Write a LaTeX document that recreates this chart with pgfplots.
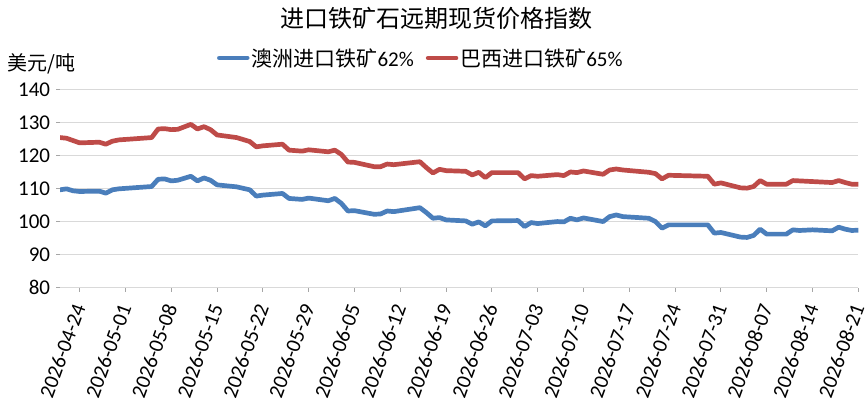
\documentclass[border=0pt]{standalone}
\usepackage{fontspec}
\setmainfont{Carlito}
\newfontfamily\cjk{Noto Sans CJK SC}
\usepackage{pgfplots}
\pgfplotsset{compat=1.18}
\usepackage{pgfplotstable}
\definecolor{sblue}{HTML}{4A7EBB}
\definecolor{sred}{HTML}{BE4B48}
\definecolor{gridc}{HTML}{D9D9D9}
\definecolor{tickc}{HTML}{A6A6A6}

\pgfplotstableread{
day red blue
-3 125.4 109.6
-2 125.2 109.9
-1 124.5 109.3
0 123.8 109.1
3 124.0 109.2
4 123.4 108.6
5 124.3 109.6
6 124.7 109.9
11 125.4 110.6
12 128.0 112.8
13 128.1 112.9
14 127.8 112.3
15 127.9 112.5
17 129.4 113.7
18 128.0 112.3
19 128.7 113.2
20 127.8 112.5
21 126.2 111.1
24 125.4 110.5
26 124.2 109.6
27 122.6 107.7
28 122.9 108.0
31 123.4 108.5
32 121.6 107.0
34 121.3 106.7
35 121.7 107.1
38 121.1 106.3
39 121.6 107.0
40 120.3 105.5
41 118.0 103.2
42 117.9 103.3
45 116.6 102.2
46 116.6 102.3
47 117.4 103.2
48 117.2 103.0
52 118.1 104.2
53 116.3 102.7
54 114.7 101.0
55 115.8 101.2
56 115.4 100.5
59 115.2 100.2
60 114.1 99.2
61 114.9 99.9
62 113.3 98.7
63 114.8 100.2
67 114.8 100.3
68 112.9 98.5
69 113.9 99.7
70 113.7 99.4
73 114.2 100.0
74 113.9 99.9
75 115.0 101.0
76 114.8 100.5
77 115.3 101.1
80 114.3 100.0
81 115.6 101.5
82 115.9 102.0
83 115.6 101.5
87 114.9 101.0
88 114.5 100.0
89 112.9 98.0
90 114.0 99.0
96 113.7 99.0
97 111.3 96.5
98 111.7 96.7
101 110.2 95.3
102 110.1 95.2
103 110.6 95.8
104 112.4 97.7
105 111.3 96.2
108 111.3 96.2
109 112.4 97.5
110 112.3 97.3
112 112.1 97.5
115 111.8 97.2
116 112.4 98.3
117 111.8 97.7
118 111.3 97.3
119 111.3 97.4
}\datatable

\begin{document}
\begin{tikzpicture}
\path[use as bounding box] (0pt,0pt) rectangle (865pt,407pt);
\begin{axis}[
  at={(60pt,119.3pt)}, anchor=south west,
  scale only axis, width=798.3pt, height=198.4pt,
  xmin=-3, xmax=119, ymin=80, ymax=140,
  ytick={80,90,...,140},
  xtick={0,7,...,119},
  xticklabels={2026-04-24,2026-05-01,2026-05-08,2026-05-15,2026-05-22,2026-05-29,2026-06-05,2026-06-12,2026-06-19,2026-06-26,2026-07-03,2026-07-10,2026-07-17,2026-07-24,2026-07-31,2026-08-07,2026-08-14,2026-08-21},
  /pgf/number format/assume math mode=true,
  ticklabel style={font=\fontsize{21}{25}\selectfont, text=black},
  xticklabel style={rotate=70, anchor=east, inner sep=0pt, xshift=-0.5pt},
  xticklabel shift=12.5pt,
  yticklabel style={inner sep=0pt, xshift=-5.7pt},
  axis line style={draw=none},
  tick pos=left,
  tick align=outside,
  major tick length=4pt,
  tick style={color=tickc, line width=1pt},
  ymajorgrids,
  grid style={color=gridc, line width=1.2pt},
  legend style={at={(0.452,1.158)}, anchor=center, draw=none, fill=none,
    inner sep=0pt, outer sep=0pt, legend columns=2,
    font=\fontsize{21}{25}\selectfont,
    /tikz/every even column/.append style={column sep=10pt},
    nodes={inner sep=2pt}},
  legend image code/.code={\draw[#1,line width=4.5pt] (0pt,0pt) -- (28pt,0pt);},
  every axis plot/.append style={line width=4.7pt, line join=round, line cap=round},
]
\addplot[sblue] table[x=day, y=blue] {\datatable};
\addlegendentry{{\cjk 澳洲进口铁矿}62\%}
\addplot[sred] table[x=day, y=red] {\datatable};
\addlegendentry{{\cjk 巴西进口铁矿}65\%}
\end{axis}
\node[font=\cjk\fontsize{24}{28}\selectfont, inner sep=0pt] at (436.7pt,389pt) {进口铁矿石远期现货价格指数};
\node[anchor=west, inner sep=0pt, font=\cjk\fontsize{20}{24}\selectfont] at (7.3pt,343pt) {美元/吨};
\end{tikzpicture}
\end{document}
